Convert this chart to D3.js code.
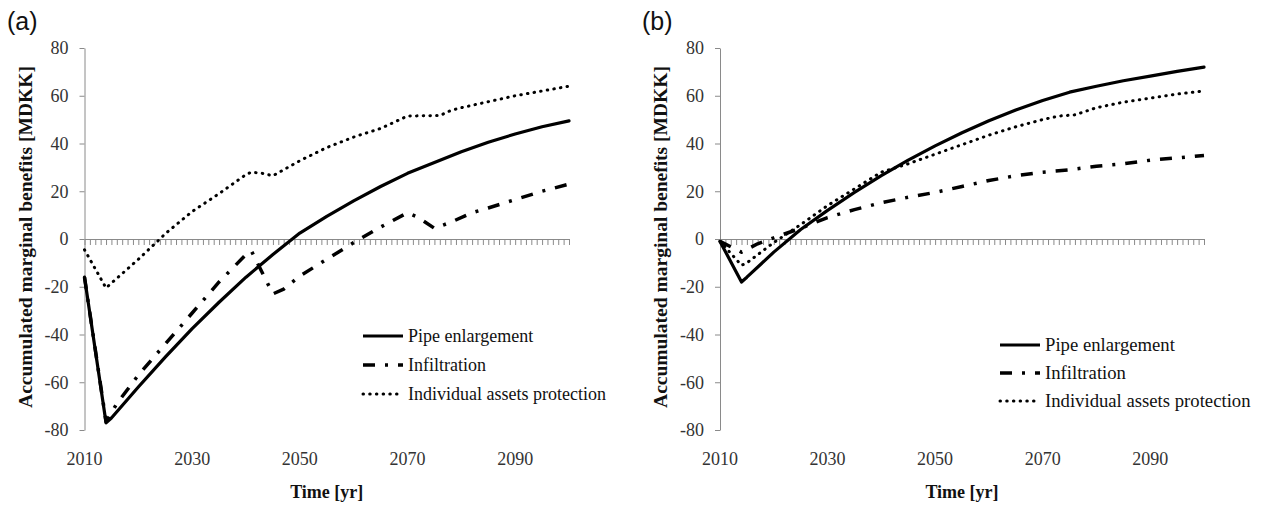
<!DOCTYPE html>
<html><head><meta charset="utf-8">
<script src="https://cdn.jsdelivr.net/npm/d3@7"></script>
<style>body{margin:0;background:#fff} svg{display:block}</style>
</head><body><svg id="c" width="1264" height="505"></svg>
<script>
// ---------- data ----------
const seriesNames = ["Pipe enlargement", "Infiltration", "Individual assets protection"];
const yTickValues = [-80, -60, -40, -20, 0, 20, 40, 60, 80];
const xTickLabels = [2010, 2030, 2050, 2070, 2090];
const yearStart = 2010, yearEnd = 2100;

// Panel (a)
const pipeA_years = [2010,2014,2015,2020,2025,2030,2035,2040,2045,2050,2055,2060,2065,2070,2075,2080,2085,2090,2095,2100];
const pipeA_vals  = [-16,-77,-75,-62,-49.5,-37.5,-26.5,-16,-6.5,2.5,9.5,16,22,27.5,32,36.5,40.5,44,47,49.5];
const infA_years  = [2010,2014,2016,2020,2025,2030,2035,2040,2041,2045,2047,2050,2055,2060,2065,2070,2072,2075,2078,2082,2085,2090,2095,2100];
const infA_vals   = [-16,-76.5,-69,-57,-44,-31,-18,-6.5,-5,-23,-21,-15.5,-8.5,-1.5,5,11,9,4.5,7,11,13,16.5,20,23];
const indA_years  = [2010,2014,2015,2020,2024,2025,2030,2035,2040,2041,2043,2045,2050,2055,2060,2065,2070,2075,2076,2078,2080,2085,2090,2095,2100];
const indA_vals   = [-4.5,-20.5,-18.5,-8.5,0,2.2,11.5,19,27,28,27.5,26.5,32.8,38.3,42.7,46.3,51.5,51.7,51.7,53.8,55,57.5,60,62,64];

// Panel (b)
const pipeB_years = [2010,2014,2015,2020,2025,2030,2035,2040,2045,2050,2055,2060,2065,2070,2075,2080,2085,2090,2095,2100];
const pipeB_vals  = [-1,-18,-16,-5.5,4,12,19.5,26.5,33,39,44.5,49.5,54,58,61.5,64,66.3,68.2,70.2,72];
const infB_years  = [2010,2014,2017,2020,2025,2030,2035,2040,2045,2050,2055,2060,2065,2070,2075,2080,2085,2090,2095,2100];
const infB_vals   = [-1,-5.5,-2,0.5,4.5,9,12.3,15.2,17.5,19.5,22,24.5,26.5,28,29,30.5,31.5,33,34,35];
const indB_years  = [2010,2014,2015,2020,2025,2030,2035,2040,2045,2050,2055,2060,2065,2070,2073,2076,2078,2080,2085,2090,2095,2100];
const indB_vals   = [-1,-11,-10,-1.5,6,14,21,28,31.5,35.5,39.5,43.5,47,50,51.5,52,53.5,55,57.3,59,60.7,62];

// ---------- drawing ----------
const svg = d3.select("#c");
svg.append("rect").attr("width",1264).attr("height",505).attr("fill","#fff");

const styles = [
  {width:3.2, dash:null, cap:"round"},
  {width:3.5, dash:"12,10,3,10", cap:"butt"},
  {width:3, dash:"0.5,6.2", cap:"round"}
];
const serif = "'Liberation Serif','Times New Roman',serif";

function zip(ys, vs){ return ys.map((y,i)=>({year:y, v:vs[i]})); }

function drawPanel(p, data){
  const x = d3.scaleLinear().domain([yearStart, yearEnd]).range([p.x0, p.x1]);
  const y = d3.scaleLinear().domain([-80, 80]).range([430, 48]);
  const g = svg.append("g");

  // y axis
  const ya = g.append("g").attr("transform",`translate(${p.x0},0)`)
    .call(d3.axisLeft(y).tickValues(yTickValues).tickSize(5).tickSizeOuter(0).tickPadding(11).tickFormat(d=>String(d)));
  ya.select(".domain").attr("stroke","#8a8a8a");
  ya.selectAll(".tick line").attr("stroke","#8a8a8a");
  ya.selectAll(".tick text").attr("font-family",serif).attr("font-size",18).attr("fill","#333");

  // x axis at zero with yearly ticks
  const years = d3.range(yearStart, yearEnd+1);
  const xa = g.append("g").attr("transform",`translate(0,${y(0)})`)
    .call(d3.axisBottom(x).tickValues(years).tickSize(6).tickSizeOuter(0).tickFormat(""));
  xa.select(".domain").attr("stroke","#8a8a8a");
  xa.selectAll(".tick line").attr("stroke","#8a8a8a");

  // x labels at bottom
  g.selectAll(".xl").data(xTickLabels).enter().append("text")
    .attr("x", d=>x(d)).attr("y", 465).attr("text-anchor","middle")
    .attr("font-family",serif).attr("font-size",18).attr("fill","#333").text(d=>d);

  // titles
  g.append("text").attr("transform",`translate(${p.ytX},237) rotate(-90)`)
    .attr("text-anchor","middle").attr("font-family",serif).attr("font-weight","bold")
    .attr("font-size",19.5).attr("fill","#111").text("Accumulated marginal benefits [MDKK]");
  g.append("text").attr("x",(p.x0+p.x1)/2).attr("y",498).attr("text-anchor","middle")
    .attr("font-family",serif).attr("font-weight","bold").attr("font-size",18).attr("fill","#111")
    .text("Time [yr]");
  g.append("text").attr("x",p.lx).attr("y",30).attr("font-family","'Liberation Sans',Arial,sans-serif")
    .attr("font-size",25).attr("fill","#111").text(p.label);

  // lines
  const line = d3.line().x(d=>x(d.year)).y(d=>y(d.v));
  data.forEach((s,i)=>{
    const st = styles[i];
    g.append("path").datum(s).attr("d",line).attr("fill","none").attr("stroke","#000")
      .attr("stroke-width",st.width).attr("stroke-linecap",st.cap).attr("stroke-linejoin","round")
      .attr("stroke-dasharray",st.dash);
  });

  // legend
  seriesNames.forEach((nm,i)=>{
    const st = styles[i];
    const yy = p.legY[i];
    g.append("line").attr("x1",p.legX).attr("x2",p.legX+40).attr("y1",yy).attr("y2",yy)
      .attr("stroke","#000").attr("stroke-width",st.width).attr("stroke-dasharray",st.dash)
      .attr("stroke-linecap", i===0?"butt":st.cap);
    g.append("text").attr("x",p.legX+45).attr("y",yy).attr("dy","0.33em")
      .attr("font-family",serif).attr("font-size",p.legFont).attr("fill","#111").text(nm);
  });
}

drawPanel({label:"(a)", lx:7, x0:84.5, x1:569, ytX:32, legX:363, legY:[336,365,394], legFont:18},
  [zip(pipeA_years,pipeA_vals), zip(infA_years,infA_vals), zip(indA_years,indA_vals)]);
drawPanel({label:"(b)", lx:642, x0:720, x1:1204, ytX:667, legX:1000, legY:[345,373,401], legFont:18.7},
  [zip(pipeB_years,pipeB_vals), zip(infB_years,infB_vals), zip(indB_years,indB_vals)]);
</script></body></html>
